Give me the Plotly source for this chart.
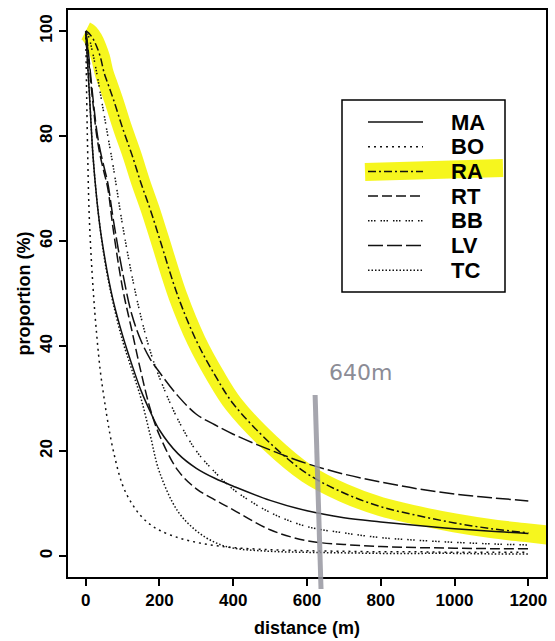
import plotly.graph_objects as go

# distance grid (m)
distance = [0, 5, 10, 20, 30, 40, 50, 60, 75, 100, 125, 150, 175, 200, 250, 300,
            350, 400, 500, 600, 700, 800, 900, 1000, 1100, 1200]

# proportion (%) for each site
MA = [100, 94, 88, 76, 68, 62, 57.5, 53.5, 48.5, 42, 36.5, 31.5, 27.5, 24, 19.5, 16.7,
      14.8, 13.3, 10.6, 8.6, 7.3, 6.5, 5.8, 5.2, 4.7, 4.3]
BO = [100, 78, 64, 51, 42, 35, 30, 25.5, 20, 13.5, 10, 7.6, 6, 4.9, 3.5, 2.6,
      2.0, 1.6, 1.2, 1.0, 0.9, 0.8, 0.8, 0.7, 0.7, 0.7]
RA = [100, 99.8, 99.5, 98.5, 97, 95, 92, 90, 87, 81.5, 76.5, 71, 66, 60.5, 49.5, 41,
      34.5, 29, 21.5, 15.7, 12, 9.4, 7.7, 6.3, 5.2, 4.4]
RT = [100, 97, 93, 86, 80, 76, 73, 70, 62, 51, 43, 35, 28, 23, 16.3, 12.8,
      10.7, 8.8, 5, 2.9, 2.2, 1.8, 1.6, 1.5, 1.4, 1.4]
BB = [100, 99.5, 98.5, 95.5, 92, 88, 84, 80, 74, 63, 53.5, 45.5, 39, 34, 26, 20,
      16, 12.7, 8.3, 5.6, 4.4, 3.5, 3, 2.6, 2.3, 2.1]
LV = [100, 97.5, 94, 87, 81, 77, 74, 71, 64, 54, 46, 41, 37.5, 35, 30.5, 27,
      25, 23.2, 20.2, 17.6, 15.6, 14.1, 12.8, 11.8, 11.1, 10.5]
TC = [100, 94, 88, 76, 68, 62, 57, 53, 48, 41, 35.5, 30, 23, 16, 8.5, 4.8,
      2.6, 1.5, 0.9, 0.7, 0.6, 0.5, 0.5, 0.5, 0.4, 0.4]

series_names = ["MA", "BO", "RA", "RT", "BB", "LV", "TC"]
series_values = [MA, BO, RA, RT, BB, LV, TC]
dash_styles = ["solid", "2px,4px", "8px,3px,2px,3px", "10px,4px",
               "1.5px,1.5px,1.5px,1.5px,1.5px,5px", "15px,4px", "1.5px,2px"]

x_ticks = [0, 200, 400, 600, 800, 1000, 1200]
y_ticks = [0, 20, 40, 60, 80, 100]
pencil_mark = 630  # hand-drawn "640m" line position (m)

YELLOW = "rgba(246,246,18,0.95)"
PENCIL = "rgba(150,150,160,0.85)"
FONT = "Liberation Sans"

W, H = 555, 641
ML, MR, MT, MB = 68, 9, 10, 64
PW, PH = W - ML - MR, H - MT - MB


def px_x(px):
    return (px - ML) / PW


def px_y(py):
    return (H - MB - py) / PH


fig = go.Figure()

# highlighter stroke under RA (the pen stroke runs on past the last point)
run_on = 70
slope = (RA[-1] - RA[-2]) / (distance[-1] - distance[-2])
hl_x = distance + [distance[-1] + run_on]
hl_y = RA + [RA[-1] + slope * run_on]
fig.add_trace(go.Scatter(x=hl_x, y=hl_y, mode="lines", showlegend=False,
                         hoverinfo="skip",
                         line=dict(color=YELLOW, width=19, shape="spline", smoothing=1.0)))

for name, vals, dash in zip(series_names, series_values, dash_styles):
    fig.add_trace(go.Scatter(x=distance, y=vals, mode="lines", name=name, showlegend=False,
                             line=dict(color="#111111", width=1.5, dash=dash,
                                       shape="spline", smoothing=1.0)))

axis_common = dict(showgrid=False, zeroline=False, showline=True, linecolor="black",
                   linewidth=2, mirror=True, ticks="outside", ticklen=7, tickwidth=1.5,
                   tickcolor="black", automargin=False,
                   tickfont=dict(family=FONT, size=17, color="black", weight="bold"))

fig.update_layout(
    width=W, height=H,
    margin=dict(l=ML, r=MR, t=MT, b=MB, autoexpand=False),
    paper_bgcolor="white", plot_bgcolor="white",
    xaxis=dict(range=[-48, 1248], tickvals=x_ticks, **axis_common,
               title=dict(text="distance (m)", standoff=12,
                          font=dict(family=FONT, size=18, color="black", weight="bold"))),
    yaxis=dict(range=[-4, 104], tickvals=y_ticks, tickangle=-90, **axis_common,
               title=dict(text="proportion (%)", standoff=2,
                          font=dict(family=FONT, size=18, color="black", weight="bold"))),
    showlegend=False,
)

# ---- key (legend box) ----
box_l, box_r, box_t, box_b = 342, 505, 100, 292
row0, row_step = 122, 24.7
sample_l, sample_r, text_l = 368, 423, 449

# highlighter across the RA row
fig.add_shape(type="line", xref="paper", yref="paper",
              x0=px_x(365), x1=px_x(503), y0=px_y(172), y1=px_y(168),
              line=dict(color=YELLOW, width=18), layer="below")

fig.add_shape(type="rect", xref="paper", yref="paper",
              x0=px_x(box_l), x1=px_x(box_r), y0=px_y(box_b), y1=px_y(box_t),
              line=dict(color="black", width=1.5), fillcolor="rgba(0,0,0,0)", layer="above")

for i, (name, dash) in enumerate(zip(series_names, dash_styles)):
    yy = px_y(row0 + i * row_step)
    fig.add_shape(type="line", xref="paper", yref="paper",
                  x0=px_x(sample_l), x1=px_x(sample_r), y0=yy, y1=yy,
                  line=dict(color="#111111", width=1.5, dash=dash), layer="above")
    fig.add_annotation(text=name, xref="paper", yref="paper", x=px_x(text_l), y=yy,
                       xanchor="left", yanchor="middle", showarrow=False,
                       font=dict(family=FONT, size=22, color="black", weight="bold"))

# pencil line at ~640 m
fig.add_shape(type="line", xref="x", yref="paper", x0=pencil_mark - 8, x1=pencil_mark + 8,
              y0=px_y(395), y1=px_y(589), line=dict(color=PENCIL, width=5), layer="above")
fig.add_annotation(text="640m", xref="paper", yref="paper", x=px_x(360), y=px_y(372),
                   showarrow=False,
                   font=dict(family="DejaVu Sans", size=22, color="rgb(140,140,150)"))

fig.write_html("out.html")
